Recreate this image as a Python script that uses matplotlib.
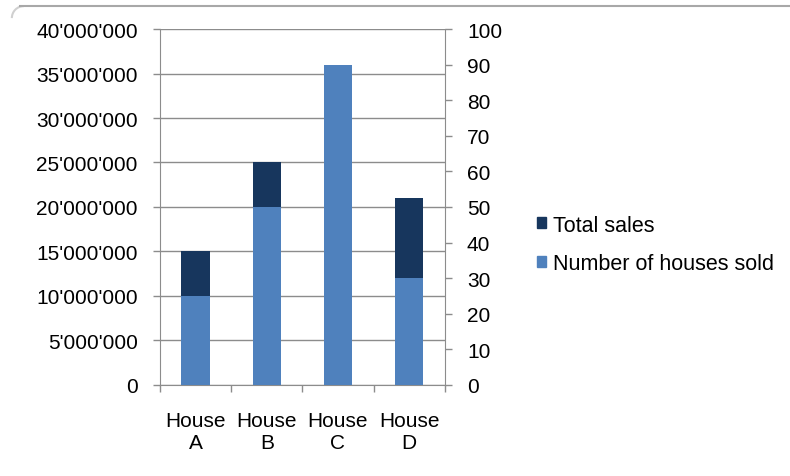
import matplotlib
matplotlib.use("Agg")
import matplotlib.pyplot as plt
from matplotlib.ticker import FuncFormatter, FixedLocator, NullFormatter
from matplotlib.patches import Patch, Arc
from matplotlib.lines import Line2D

plt.rcParams['font.family'] = ['Liberation Sans', 'DejaVu Sans']

houses = ["House\nA", "House\nB", "House\nC", "House\nD"]
total_sales = [15000000, 25000000, 30000000, 21000000]
houses_sold = [25, 50, 90, 30]

dark = "#17365d"
light = "#4f81bd"
grid_c = "#8c8c8c"
fs = 15

fig = plt.figure(figsize=(7.9, 4.77), dpi=100)
# outer chart frame (only the top edge shows)
fig.lines.append(Line2D([0.025, 1.0], [0.986, 0.986], transform=fig.transFigure, color="#a8a8a8", lw=1.5))
fig.patches.append(Arc((0.03, 0.96), 0.03, 0.05, theta1=90, theta2=180, transform=fig.transFigure,
                       color="#d0d0d0", lw=1.5))

ax = fig.add_axes([0.2025, 0.191, 0.3605, 0.746])
x = list(range(len(houses)))
ax.bar(x, total_sales, width=0.4, color=dark, zorder=2)
ax.set_xlim(-0.5, 3.5)
ax.set_ylim(0, 40000000)
ax.set_yticks(range(0, 40000001, 5000000))
ax.yaxis.set_major_formatter(FuncFormatter(lambda v, p: f"{int(v):,}".replace(",", "'")))
ax.yaxis.grid(True, color=grid_c, lw=1)
ax.set_axisbelow(True)

ax.xaxis.set_major_locator(FixedLocator([-0.5, 0.5, 1.5, 2.5, 3.5]))
ax.xaxis.set_major_formatter(NullFormatter())
ax.xaxis.set_minor_locator(FixedLocator(x))
ax.set_xticklabels(houses, minor=True)
ax.tick_params(axis='x', which='major', length=5, color=grid_c, width=1)
ax.tick_params(axis='x', which='minor', length=0, pad=19, labelsize=fs)
ax.tick_params(axis='y', length=5, color=grid_c, width=1, labelsize=fs, pad=11)
for s in ['top', 'right']:
    ax.spines[s].set_visible(False)
for s in ['left', 'bottom']:
    ax.spines[s].set_color(grid_c)

ax2 = ax.twinx()
ax2.bar(x, houses_sold, width=0.4, color=light, zorder=3)
ax2.set_ylim(0, 100)
ax2.set_yticks(range(0, 101, 10))
ax2.tick_params(axis='y', length=5, color=grid_c, width=1, labelsize=fs, pad=11)
for s in ['top', 'left', 'bottom']:
    ax2.spines[s].set_visible(False)
ax2.spines['right'].set_color(grid_c)

handles = [Patch(color=dark, label="Total sales"), Patch(color=light, label="Number of houses sold")]
fig.legend(handles=handles, loc='center left', bbox_to_anchor=(0.68, 0.486), frameon=False,
           fontsize=15.5, handlelength=0.42, handleheight=0.42, handletextpad=0.3,
           labelspacing=0.8, borderpad=0, borderaxespad=0)

fig.savefig("out.png", dpi=100)
